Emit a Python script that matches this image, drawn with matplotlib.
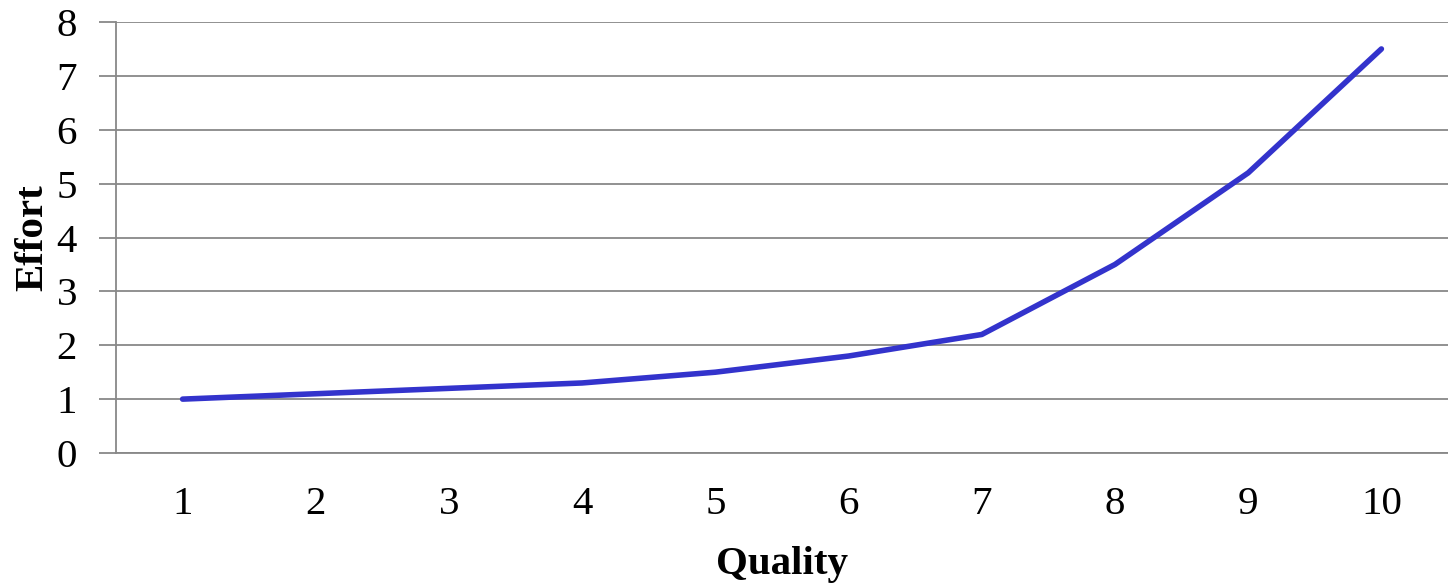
#!/usr/bin/env python3
import matplotlib
matplotlib.use("Agg")
import matplotlib.pyplot as plt

# 資料
quality = [1, 2, 3, 4, 5, 6, 7, 8, 9, 10]
effort = [1.0, 1.1, 1.2, 1.3, 1.5, 1.8, 2.2, 3.5, 5.2, 7.5]
y_ticks = [0, 1, 2, 3, 4, 5, 6, 7, 8]

plt.rcParams['font.family'] = ['Liberation Serif', 'DejaVu Serif']

fig = plt.figure(figsize=(14.48, 5.85), dpi=100)
ax = fig.add_axes([116 / 1448, 1 - 453 / 585, 1 - 116 / 1448, (453 - 22) / 585])

ax.plot(quality, effort, color='#3333cc', linewidth=4,
        solid_capstyle='round', solid_joinstyle='round', zorder=3)

ax.set_xlim(0.5, 10.5)
ax.set_ylim(0, 8)
ax.set_xticks(quality)
ax.set_yticks(y_ticks)
ax.tick_params(axis='x', length=0, pad=24, labelsize=29.5)
ax.tick_params(axis='y', length=12, width=1.3, color='#888888',
               pad=16, labelsize=29.5)

ax.grid(axis='y', color='#888888', linewidth=1.3)
ax.set_axisbelow(True)
for side in ['top', 'right']:
    ax.spines[side].set_visible(False)
for side in ['left', 'bottom']:
    ax.spines[side].set_color('#888888')
    ax.spines[side].set_linewidth(1.3)

ax.set_xlabel("Quality", fontsize=29.5, fontweight='bold', labelpad=16)
ax.set_ylabel("Effort", fontsize=29.5, fontweight='bold', labelpad=4)

plt.savefig("out.png", dpi=100)
